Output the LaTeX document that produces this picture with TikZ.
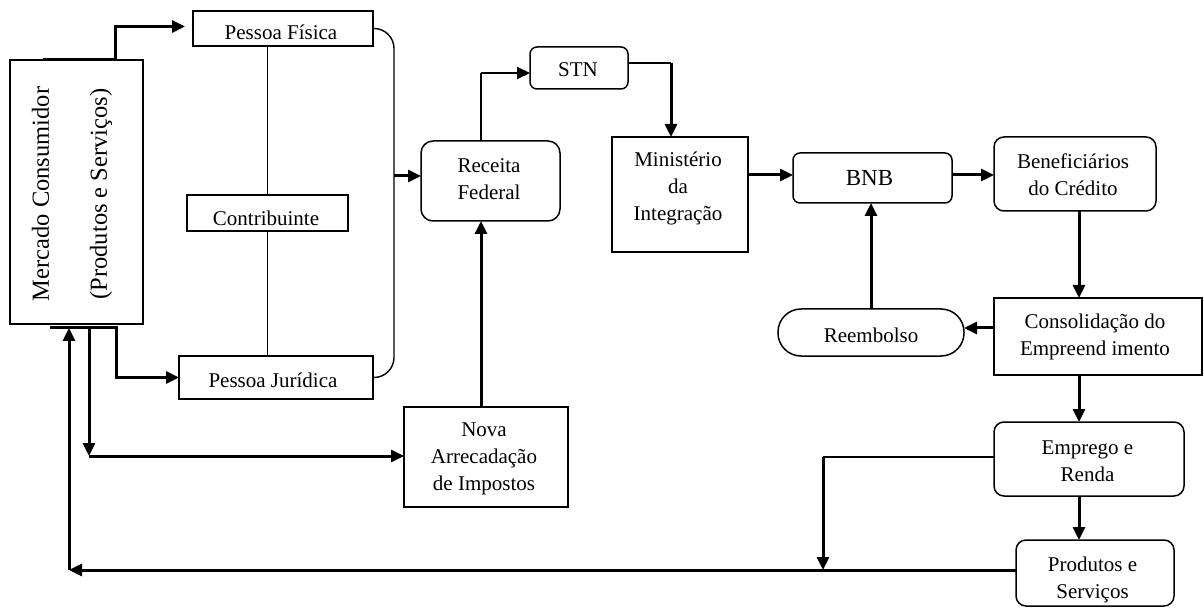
\documentclass[tikz,border=0pt]{standalone}
\usepackage{fontspec}
\setmainfont{Liberation Serif}
\usetikzlibrary{arrows.meta,calc}
\newcommand\fsA{\fontsize{21}{27}\selectfont}
\newcommand\fsB{\fontsize{23}{27}\selectfont}
\newcommand\fsC{\fontsize{24.5}{58}\selectfont}
\tikzset{
  box/.style={draw, line width=1.5pt, inner sep=0pt, outer sep=0pt, fill=white},
  rbox/.style={box, rounded corners=#1},
  txt/.style={font=\fsA, align=center, inner sep=0pt},
  flow/.style={line width=3pt, -{Triangle[length=13pt,width=12pt]}},
  medflow/.style={line width=2pt, -{Triangle[length=13pt,width=12pt]}},
  thinline/.style={line width=1.2pt},
}
\begin{document}
\begin{tikzpicture}[x=1pt,y=-1pt]
\useasboundingbox (0,0) rectangle (1204,609);
% boxes
\node[box, minimum width=133pt, minimum height=264pt] (mc) at (76.5,192) {};
\node[box, minimum width=180pt, minimum height=35pt] (pf) at (283,28.5) {};
\node[box, minimum width=161pt, minimum height=36pt] (ct) at (267.5,213) {};
\node[box, minimum width=194pt, minimum height=43pt] (pj) at (276,377.5) {};
\node[rbox=12pt, minimum width=139pt, minimum height=80pt] (rf) at (490.5,181) {};
\node[rbox=7pt, minimum width=98pt, minimum height=42pt] (stn) at (579,68) {};
\node[box, minimum width=136pt, minimum height=115pt] (mi) at (680,194.5) {};
\node[rbox=7pt, minimum width=159pt, minimum height=50pt] (bnb) at (872.5,178) {};
\node[rbox=10pt, minimum width=162pt, minimum height=74pt] (ben) at (1075,174) {};
\node[box, minimum width=208pt, minimum height=77pt] (cons) at (1098,336.5) {};
\node[rbox=23pt, minimum width=186pt, minimum height=47pt] (re) at (871,332.5) {};
\node[rbox=10pt, minimum width=190pt, minimum height=74pt] (emp) at (1089,459) {};
\node[rbox=10pt, minimum width=158pt, minimum height=66pt] (prod) at (1095,573) {};
\node[box, minimum width=164pt, minimum height=100pt] (na) at (486,457) {};
% texts
\node[txt, font=\fsC, rotate=90] (tmc) at (72,194) {Mercado Consumidor\\(Produtos e Serviços)};
\node[txt] (tpf) at (281,32) {Pessoa Física};
\node[txt] (tct) at (266,218) {Contribuinte};
\node[txt] (tpj) at (273,380) {Pessoa Jurídica};
\node[txt] (trf) at (489,179) {Receita\\Federal};
\node[txt] (tstn) at (578,69.5) {STN};
\node[txt] (tmi) at (678,188) {Ministério\\da\\Integração};
\node[txt, font=\fsB] (tbnb) at (869.5,177.7) {BNB};
\node[txt] (tben) at (1073,175) {Beneficiários\\do Crédito};
\node[txt] (tre) at (871,335) {Reembolso};
\node[txt] (tcons) at (1095,337) {Consolidação do\\Empreend imento};
\node[txt] (temp) at (1087.5,461) {Emprego e\\Renda};
\node[txt] (tprod) at (1092.5,579.5) {Produtos e\\Serviços};
\node[txt] (tna) at (484,459) {Nova\\Arrecadação\\de Impostos};
% coordinates
\coordinate (mt) at (43,60);
\coordinate (br) at (394,176);
\coordinate (c1) at (481,73);
\coordinate (c2) at (671,63);
\coordinate (vx) at (1079,0);
\coordinate (c4) at (823,457);
\coordinate (c5) at (823,570);
\coordinate (bl) at (69,570);
\coordinate (u1) at (50,328);
\coordinate (u2) at (116,328);
\coordinate (d1) at (89,328);
\coordinate (d2) at (89,456);
\coordinate (nx) at (481,0);
% connectors
\draw[flow] (mt) -- (115,60) |- ([xshift=-8pt,yshift=2pt]pf.west);
\draw[thinline] (ct.north) -- (ct.north |- pf.south);
\draw[thinline] (ct.south) -- (ct.south |- pj.north);
\draw[line width=1.4pt, rounded corners=20pt] (pf.east) -- ++(21,0) |- (pj.east);
\draw[flow] (br) -- (br -| rf.west);
\draw[thinline] (c1 |- rf.north) -- (c1);
\draw[medflow] (c1) -- (c1 -| stn.west);
\draw[thinline] (c2 -| stn.east) -- (c2);
\draw[flow] (c2) -- (c2 |- mi.north);
\draw[flow] ([yshift=3pt]mi.east |- bnb.west) -- ([yshift=3pt]bnb.west);
\draw[flow] ([yshift=3pt]bnb.east) -- ([yshift=3pt]bnb.east -| ben.west);
\draw[flow] (vx |- ben.south) -- (vx |- cons.north);
\draw[flow] ([yshift=8.5pt]cons.west) -- ([yshift=8.5pt]cons.west -| re.east);
\draw[flow] (re.north) -- (re.north |- bnb.south);
\draw[flow] (vx |- cons.south) -- (vx |- emp.north);
\draw[flow] (vx |- emp.south) -- (vx |- prod.north);
\draw[thinline] (c4 -| emp.west) -- (c4);
\draw[flow] (c4) -- (c5);
\draw[flow] (bl -| prod.west) -- (bl);
\draw[flow] (bl) -- (bl |- u1);
\draw[flow] (u1) -- (u2) |- (pj.west);
\draw[flow] (d1) -- (d2);
\draw[flow] (d2) -- (d2 -| na.west);
\draw[flow] (nx |- na.north) -- (nx |- rf.south);
\end{tikzpicture}
\end{document}
